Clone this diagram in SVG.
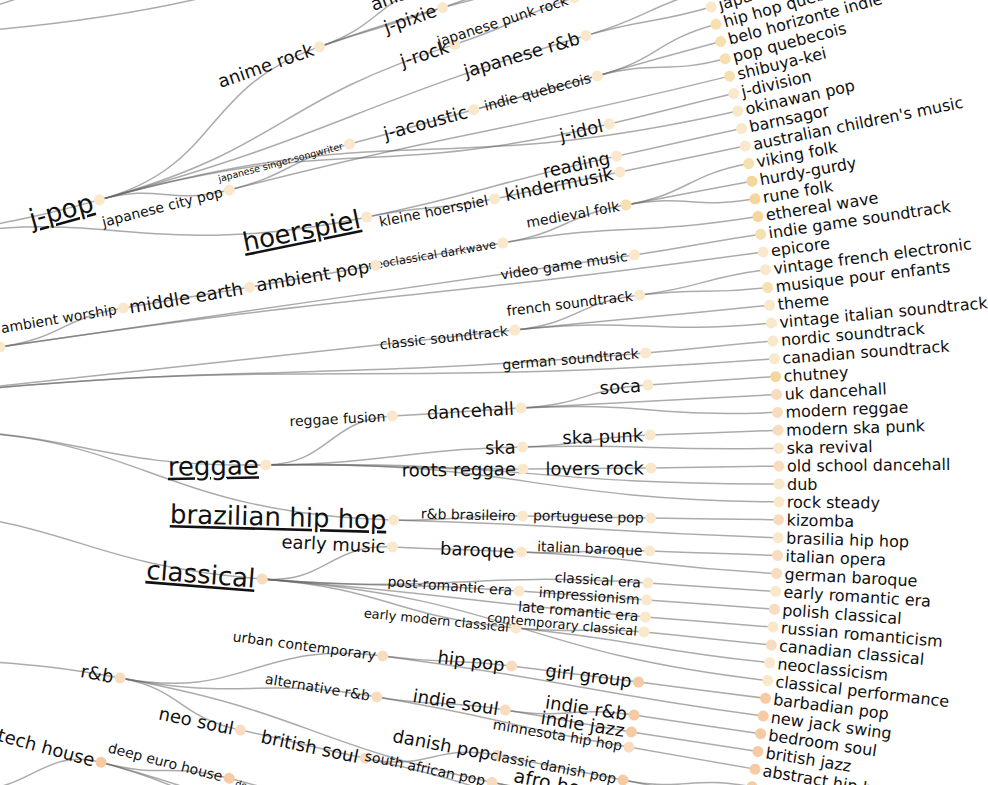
<svg xmlns="http://www.w3.org/2000/svg" width="988" height="785" viewBox="0 0 988 785">
<style>
.lk path{fill:none;stroke:#666;stroke-opacity:.55;stroke-width:1.5}
text{font-family:"DejaVu Sans",Verdana,sans-serif;fill:#111}
.lf text{font-size:16px}
.in text{text-anchor:end}
.b{font-size:26px;text-decoration:underline}
.m{font-size:18px}
.m2{font-size:19px}
.s{font-size:14px}
.xs{font-size:13px}
.t{font-size:11.5px}
.tt{font-size:9.5px}
.c1{fill:#f9e8cc}.c2{fill:#f6d69c}.c3{fill:#f8dcbf}.c4{fill:#f6cba4}.c5{fill:#f7e0b0}
</style>
<rect width="988" height="785" fill="#fff"/>
<g id="connectors" class="lk">
<path d="M -20,31 Q 110,20 210,-4"/>
<path d="M -5,6 Q 10,1 25,-4"/>
<g transform="translate(-928,484)">
<path transform="rotate(-15.458)" d="M1066,0 C1194,0 1191.3,-80.4 1319,-89"/>
<path transform="rotate(-15.458)" d="M1066,0 C1258.5,0 1257.6,-47.9 1449.9,-55.2"/>
<path transform="rotate(-15.458)" d="M1066,0 C1322.5,0 1322.3,-24 1578.7,-28.7"/>
<path transform="rotate(-15.458)" d="M1066,0 C1130,0 1129.8,23.7 1193.7,25"/>
<path transform="rotate(-15.458)" d="M1066,0 C1322.5,0 1321.5,52.6 1577.8,62.8"/>
<path transform="rotate(-15.458)" d="M1066,0 C1386.5,0 1384.8,68.6 1704.9,84.5"/>
<path transform="rotate(-14.256)" d="M1194,0 C1258,0 1257.9,-14.1 1321.9,-14.8"/>
<path transform="rotate(-14.256)" d="M1194,0 C1450.5,0 1450.5,11 1707,12.9"/>
<path transform="rotate(-14.899)" d="M1322,0 C1386.5,0 1386.5,-1.2 1451,-1.2"/>
<path transform="rotate(-14.947)" d="M1451,0 C1515,0 1515,-0.8 1579,-0.8"/>
<path transform="rotate(-14.947)" d="M1451,0 C1579,0 1579,-2.2 1707,-2.3"/>
<path transform="rotate(-14.977)" d="M1579,0 C1643,0 1642.9,-18.6 1706.9,-19.3"/>
<path transform="rotate(-14.977)" d="M1579,0 C1643,0 1642.9,15.9 1706.9,16.5"/>
<path transform="rotate(-16.497)" d="M1579,0 C1643,0 1643,7.8 1707,8.1"/>
<path transform="rotate(-16.497)" d="M1579,0 C1643,0 1643,-9.5 1707,-9.9"/>
<path transform="rotate(-17.639)" d="M1451,0 C1515,0 1515,-8 1579,-8.3"/>
<path transform="rotate(-19.316)" d="M1322,0 C1386.5,0 1386.5,3.6 1451,3.8"/>
<path transform="rotate(-19.316)" d="M1322,0 C1386.5,0 1386.3,-22.1 1450.8,-23.1"/>
<path transform="rotate(-19.316)" d="M1322,0 C1514.5,0 1514.4,18.1 1706.9,20.4"/>
<path transform="rotate(-19.166)" d="M1451,0 C1579,0 1579,-1.8 1707,-2"/>
<path transform="rotate(-11.647)" d="M1322,0 C1386.5,0 1386.5,7.6 1451,7.9"/>
<path transform="rotate(-11.647)" d="M1322,0 C1450.5,0 1450.5,-8.5 1579,-9.3"/>
<path transform="rotate(-11.335)" d="M1451,0 C1515,0 1515,-1.6 1579,-1.7"/>
<path transform="rotate(-11.984)" d="M1579,0 C1643,0 1643,-1 1707,-1.1"/>
<path transform="rotate(-11.395)" d="M1579,0 C1643,0 1643,-0.7 1707,-0.7"/>
<path transform="rotate(-13.18)" d="M1579,0 C1643,0 1643,-1.2 1707,-1.3"/>
<path transform="rotate(-8.396)" d="M938,0 C1002,0 1001.8,-19.4 1065.8,-20.7"/>
<path transform="rotate(-8.396)" d="M938,0 C1258.5,0 1258.5,1.2 1579,1.5"/>
<path transform="rotate(-8.396)" d="M938,0 C1322.5,0 1322.4,13.5 1706.9,17.4"/>
<path transform="rotate(-9.508)" d="M1066,0 C1130,0 1130,0.4 1194,0.4"/>
<path transform="rotate(-9.49)" d="M1194,0 C1258,0 1258,-0.8 1322,-0.8"/>
<path transform="rotate(-9.526)" d="M1322,0 C1386.5,0 1386.5,-0.9 1451,-0.9"/>
<path transform="rotate(-9.562)" d="M1451,0 C1515,0 1514.9,-16.4 1578.9,-17.1"/>
<path transform="rotate(-9.562)" d="M1451,0 C1579,0 1578.9,15.1 1706.9,16.3"/>
<path transform="rotate(-10.181)" d="M1579,0 C1643,0 1642.9,-18.3 1706.9,-19"/>
<path transform="rotate(-10.181)" d="M1579,0 C1643,0 1643,-1 1707,-1.1"/>
<path transform="rotate(-10.181)" d="M1579,0 C1643,0 1642.9,16.2 1706.9,16.8"/>
<path transform="rotate(-8.342)" d="M1579,0 C1643,0 1643,-2.1 1707,-2.2"/>
<path transform="rotate(-6.01)" d="M810,0 C1130.5,0 1130.5,-1.5 1451,-2"/>
<path transform="rotate(-6.01)" d="M810,0 C1194.5,0 1194.2,26.1 1578.6,34.5"/>
<path transform="rotate(-6.01)" d="M810,0 C1258.5,0 1257.9,39.6 1706.2,53.7"/>
<path transform="rotate(-6.088)" d="M1451,0 C1515,0 1514.9,-20.8 1578.9,-21.7"/>
<path transform="rotate(-6.088)" d="M1451,0 C1579,0 1579,2.2 1707,2.3"/>
<path transform="rotate(-6.088)" d="M1451,0 C1579,0 1578.9,18.7 1706.9,20.2"/>
<path transform="rotate(-6.875)" d="M1579,0 C1643,0 1643,-9.7 1707,-10"/>
<path transform="rotate(-6.875)" d="M1579,0 C1643,0 1643,7.6 1707,7.9"/>
<path transform="rotate(-4.76)" d="M1579,0 C1643,0 1643,-1.4 1707,-1.4"/>
<path transform="rotate(-3.606)" d="M810,0 C1002,0 1000.9,47.1 1192.7,56.1"/>
<path transform="rotate(-3.606)" d="M810,0 C1066,0 1061.7,95.9 1316.6,119"/>
<path transform="rotate(-0.914)" d="M1194,0 C1258,0 1257.2,-44.6 1321.2,-46.9"/>
<path transform="rotate(-0.914)" d="M1194,0 C1322.5,0 1322.4,-12.6 1450.9,-13.9"/>
<path transform="rotate(-0.914)" d="M1194,0 C1322.5,0 1322.5,7.4 1451,8.1"/>
<path transform="rotate(-0.914)" d="M1194,0 C1450.5,0 1450.3,23.1 1706.8,27.2"/>
<path transform="rotate(-0.914)" d="M1194,0 C1450.5,0 1450,38.3 1706.4,45.1"/>
<path transform="rotate(-2.945)" d="M1322,0 C1386.5,0 1386.5,-1.3 1451,-1.4"/>
<path transform="rotate(-2.999)" d="M1451,0 C1515,0 1514.9,-15.7 1578.9,-16.4"/>
<path transform="rotate(-2.999)" d="M1451,0 C1579,0 1579,-0.2 1707,-0.2"/>
<path transform="rotate(-2.999)" d="M1451,0 C1579,0 1578.9,16.4 1706.9,17.7"/>
<path transform="rotate(-3.594)" d="M1579,0 C1643,0 1643,-0.3 1707,-0.4"/>
<path transform="rotate(-1.46)" d="M1451,0 C1515,0 1515,-8.4 1579,-8.8"/>
<path transform="rotate(-1.46)" d="M1451,0 C1579,0 1579,7.1 1707,7.7"/>
<path transform="rotate(-1.779)" d="M1579,0 C1643,0 1643,-0.7 1707,-0.7"/>
<path transform="rotate(-0.595)" d="M1451,0 C1515,0 1515,0.3 1579,0.3"/>
<path transform="rotate(-0.583)" d="M1579,0 C1643,0 1643,-0.5 1707,-0.5"/>
<path transform="rotate(1.557)" d="M1322,0 C1386.5,0 1386.5,-7.1 1451,-7.5"/>
<path transform="rotate(1.557)" d="M1322,0 C1514.5,0 1514.5,6.5 1707,7.3"/>
<path transform="rotate(1.262)" d="M1451,0 C1515,0 1515,-0.8 1579,-0.8"/>
<path transform="rotate(1.232)" d="M1579,0 C1643,0 1643,-0.9 1707,-0.9"/>
<path transform="rotate(1.803)" d="M810,0 C1002,0 1000.8,48.2 1192.6,57.5"/>
<path transform="rotate(4.562)" d="M1194,0 C1258,0 1257.4,-40.2 1321.3,-42.3"/>
<path transform="rotate(4.562)" d="M1194,0 C1386.5,0 1386.3,-23.4 1578.8,-26.7"/>
<path transform="rotate(4.562)" d="M1194,0 C1322.5,0 1322.5,-7.6 1451,-8.4"/>
<path transform="rotate(4.562)" d="M1194,0 C1386.5,0 1386.5,6.5 1579,7.5"/>
<path transform="rotate(4.562)" d="M1194,0 C1322.5,0 1322.2,26.2 1450.7,28.8"/>
<path transform="rotate(4.562)" d="M1194,0 C1450.5,0 1449.6,51.9 1705.9,61.1"/>
<path transform="rotate(2.729)" d="M1322,0 C1386.5,0 1386.5,-1 1451,-1.1"/>
<path transform="rotate(2.686)" d="M1451,0 C1515,0 1515,-6.7 1579,-7"/>
<path transform="rotate(2.686)" d="M1451,0 C1579,0 1579,8.8 1707,9.5"/>
<path transform="rotate(2.434)" d="M1579,0 C1643,0 1643,-0.9 1707,-0.9"/>
<path transform="rotate(3.594)" d="M1579,0 C1643,0 1643,0.3 1707,0.4"/>
<path transform="rotate(4.231)" d="M1451,0 C1515,0 1515,-0.5 1579,-0.5"/>
<path transform="rotate(4.213)" d="M1579,0 C1643,0 1643,-0.2 1707,-0.2"/>
<path transform="rotate(4.832)" d="M1579,0 C1643,0 1643,-0.7 1707,-0.7"/>
<path transform="rotate(5.697)" d="M1451,0 C1515,0 1515,-8.4 1579,-8.8"/>
<path transform="rotate(5.697)" d="M1451,0 C1579,0 1579,8.6 1707,9.3"/>
<path transform="rotate(5.379)" d="M1579,0 C1643,0 1643,0.9 1707,0.9"/>
<path transform="rotate(11.419)" d="M810,0 C938,0 937.9,-15.3 1065.9,-17.3"/>
<path transform="rotate(10.487)" d="M1066,0 C1194,0 1192.4,-62.7 1320.2,-69.5"/>
<path transform="rotate(10.487)" d="M1066,0 C1194,0 1193.7,-25.4 1321.7,-28.2"/>
<path transform="rotate(10.487)" d="M1066,0 C1130,0 1129.7,27.7 1193.6,29.3"/>
<path transform="rotate(10.487)" d="M1066,0 C1258.5,0 1258.1,30.2 1450.6,34.9"/>
<path transform="rotate(7.476)" d="M1322,0 C1386.5,0 1386.5,-6.5 1451,-6.9"/>
<path transform="rotate(7.476)" d="M1322,0 C1514.5,0 1514.5,8.9 1707,10"/>
<path transform="rotate(7.206)" d="M1451,0 C1515,0 1515,0 1579,0"/>
<path transform="rotate(7.206)" d="M1579,0 C1643,0 1643,0.2 1707,0.2"/>
<path transform="rotate(9.267)" d="M1322,0 C1386.5,0 1386.5,-7.4 1451,-7.8"/>
<path transform="rotate(9.267)" d="M1322,0 C1450.5,0 1450.5,8.2 1579,8.9"/>
<path transform="rotate(8.961)" d="M1451,0 C1515,0 1514.9,-14.5 1578.9,-15.1"/>
<path transform="rotate(8.961)" d="M1451,0 C1515,0 1515,1.9 1579,2"/>
<path transform="rotate(8.414)" d="M1579,0 C1643,0 1643,0 1707,0"/>
<path transform="rotate(9.033)" d="M1579,0 C1643,0 1643,-0.5 1707,-0.5"/>
<path transform="rotate(9.592)" d="M1579,0 C1643,0 1643,0.7 1707,0.7"/>
<path transform="rotate(11.894)" d="M1194,0 C1258,0 1258,1.9 1322,1.9"/>
<path transform="rotate(11.978)" d="M1322,0 C1386.5,0 1386.2,-29.1 1450.7,-30.4"/>
<path transform="rotate(11.978)" d="M1322,0 C1514.5,0 1514.1,32.9 1706.6,37.1"/>
<path transform="rotate(10.776)" d="M1451,0 C1515,0 1515,0.8 1579,0.8"/>
<path transform="rotate(10.806)" d="M1579,0 C1643,0 1642.9,-16.9 1706.9,-17.6"/>
<path transform="rotate(10.806)" d="M1579,0 C1643,0 1643,0.3 1707,0.4"/>
<path transform="rotate(11.864)" d="M1451,0 C1515,0 1515,-11.8 1579,-12.3"/>
<path transform="rotate(11.864)" d="M1451,0 C1579,0 1579,4.3 1707,4.7"/>
<path transform="rotate(18.631)" d="M938,0 C1002,0 1000.1,-61.1 1064,-65"/>
<path transform="rotate(15.133)" d="M1066,0 C1130,0 1129.9,-17.1 1193.9,-18"/>
<path transform="rotate(15.133)" d="M1066,0 C1194,0 1194,10.3 1322,11.4"/>
<path transform="rotate(15.133)" d="M1066,0 C1194,0 1193.6,29.1 1321.6,32.2"/>
<path transform="rotate(14.268)" d="M1194,0 C1258,0 1258,3.4 1322,3.6"/>
<path transform="rotate(-16.227)" d="M810,0 C938,0 937.9,12.6 1065.9,14.3"/>
<path transform="rotate(-16.227)" d="M810,0 C1066,0 1062.6,85.1 1317.8,105.6"/>
</g>
</g>
<g id="nodes" transform="translate(-928,484)">
<g class="in">
<g id="n-jpop" transform="rotate(-15.458) translate(1066)"><circle r="5.5" class="c1"/><text x="-7" dy=".35em" class="b">j-pop</text></g>
<g id="n-japanese-city-pop" transform="rotate(-14.256) translate(1194)"><circle r="5.5" class="c1"/><text x="-7" dy=".35em" class="s">japanese city pop</text></g>
<g id="n-anime-rock" transform="rotate(-19.316) translate(1322)"><circle r="5.5" class="c1"/><text x="-7" dy=".35em" class="m">anime rock</text></g>
<g id="n-japanese-singer-songwriter" transform="rotate(-14.899) translate(1322)"><circle r="5.5" class="c1"/><text x="-7" dy=".35em" class="tt">japanese singer-songwriter</text></g>
<g id="n-j-pixie" transform="rotate(-19.166) translate(1451)"><circle r="5.5" class="c1"/><text x="-7" dy=".35em" class="m">j-pixie</text></g>
<g id="n-j-rock" transform="rotate(-17.639) translate(1451)"><circle r="5.5" class="c1"/><text x="-7" dy=".35em" class="m">j-rock</text></g>
<g id="n-j-acoustic" transform="rotate(-14.947) translate(1451)"><circle r="5.5" class="c1"/><text x="-7" dy=".35em" class="m">j-acoustic</text></g>
<g id="n-anison" transform="rotate(-20.23) translate(1451)"><circle r="5.5" class="c1"/><text x="-7" dy=".35em" class="m">anison</text></g>
<g id="n-japanese-punk-rock" transform="rotate(-17.94) translate(1579)"><circle r="5.5" class="c1"/><text x="-7" dy=".35em" class="s">japanese punk rock</text></g>
<g id="n-japanese-rnb" transform="rotate(-16.497) translate(1579)"><circle r="5.5" class="c1"/><text x="-7" dy=".35em" class="m">japanese r&amp;b</text></g>
<g id="n-indie-quebecois" transform="rotate(-14.977) translate(1579)"><circle r="5.5" class="c1"/><text x="-7" dy=".35em" class="s">indie quebecois</text></g>
<g id="n-j-idol" transform="rotate(-13.18) translate(1579)"><circle r="5.5" class="c1"/><text x="-7" dy=".35em" class="m">j-idol</text></g>
<g id="n-reading" transform="rotate(-11.984) translate(1579)"><circle r="5.5" class="c1"/><text x="-7" dy=".35em" class="m">reading</text></g>
<g id="n-kindermusik" transform="rotate(-11.395) translate(1579)"><circle r="5.5" class="c1"/><text x="-7" dy=".35em" class="m">kindermusik</text></g>
<g id="n-kleine-hoerspiel" transform="rotate(-11.335) translate(1451)"><circle r="5.5" class="c1"/><text x="-7" dy=".35em" class="s">kleine hoerspiel</text></g>
<g id="n-hoerspiel" transform="rotate(-11.647) translate(1322)"><circle r="5.5" class="c1"/><text x="-7" dy=".35em" class="b">hoerspiel</text></g>
<g id="n-medieval-folk" transform="rotate(-10.181) translate(1579)"><circle r="5.5" class="c5"/><text x="-7" dy=".35em" class="s">medieval folk</text></g>
<g id="n-neoclassical-darkwave" transform="rotate(-9.562) translate(1451)"><circle r="5.5" class="c1"/><text x="-7" dy=".35em" class="t">neoclassical darkwave</text></g>
<g id="n-video-game-music" transform="rotate(-8.342) translate(1579)"><circle r="5.5" class="c1"/><text x="-7" dy=".35em" class="s">video game music</text></g>
<g id="n-ambient-pop" transform="rotate(-9.526) translate(1322)"><circle r="5.5" class="c1"/><text x="-7" dy=".35em" class="m">ambient pop</text></g>
<g id="n-middle-earth" transform="rotate(-9.49) translate(1194)"><circle r="5.5" class="c1"/><text x="-7" dy=".35em" class="m">middle earth</text></g>
<g id="n-ambient-worship" transform="rotate(-9.508) translate(1066)"><circle r="5.5" class="c1"/><text x="-7" dy=".35em" class="s">ambient worship</text></g>
<g id="n-edge" transform="rotate(-8.396) translate(938)"><circle r="5.5" class="c1"/></g>
<g id="n-classic-soundtrack" transform="rotate(-6.088) translate(1451)"><circle r="5.5" class="c1"/><text x="-7" dy=".35em" class="s">classic soundtrack</text></g>
<g id="n-french-soundtrack" transform="rotate(-6.875) translate(1579)"><circle r="5.5" class="c1"/><text x="-7" dy=".35em" class="s">french soundtrack</text></g>
<g id="n-german-soundtrack" transform="rotate(-4.76) translate(1579)"><circle r="5.5" class="c1"/><text x="-7" dy=".35em" class="s">german soundtrack</text></g>
<g id="n-soca" transform="rotate(-3.594) translate(1579)"><circle r="5.5" class="c1"/><text x="-7" dy=".35em" class="m">soca</text></g>
<g id="n-dancehall" transform="rotate(-2.999) translate(1451)"><circle r="5.5" class="c1"/><text x="-7" dy=".35em" class="m">dancehall</text></g>
<g id="n-reggae-fusion" transform="rotate(-2.945) translate(1322)"><circle r="5.5" class="c1"/><text x="-7" dy=".35em" class="s">reggae fusion</text></g>
<g id="n-ska-punk" transform="rotate(-1.779) translate(1579)"><circle r="5.5" class="c1"/><text x="-7" dy=".35em" class="m">ska punk</text></g>
<g id="n-ska" transform="rotate(-1.46) translate(1451)"><circle r="5.5" class="c1"/><text x="-7" dy=".35em" class="m">ska</text></g>
<g id="n-reggae" transform="rotate(-0.914) translate(1194)"><circle r="5.5" class="c1"/><text x="-7" dy=".35em" class="b">reggae</text></g>
<g id="n-lovers-rock" transform="rotate(-0.583) translate(1579)"><circle r="5.5" class="c1"/><text x="-7" dy=".35em" class="m">lovers rock</text></g>
<g id="n-roots-reggae" transform="rotate(-0.595) translate(1451)"><circle r="5.5" class="c1"/><text x="-7" dy=".35em" class="m">roots reggae</text></g>
<g id="n-rnb-brasileiro" transform="rotate(1.262) translate(1451)"><circle r="5.5" class="c1"/><text x="-7" dy=".35em" class="s">r&amp;b brasileiro</text></g>
<g id="n-portuguese-pop" transform="rotate(1.232) translate(1579)"><circle r="5.5" class="c1"/><text x="-7" dy=".35em" class="s">portuguese pop</text></g>
<g id="n-brazilian-hip-hop" transform="rotate(1.557) translate(1322)"><circle r="5.5" class="c1"/><text x="-7" dy=".35em" class="b">brazilian hip hop</text></g>
<g id="n-early-music" transform="rotate(2.729) translate(1322)"><circle r="5.5" class="c1"/><text x="-7" dy=".35em" class="m">early music</text></g>
<g id="n-italian-baroque" transform="rotate(2.434) translate(1579)"><circle r="5.5" class="c1"/><text x="-7" dy=".35em" class="s">italian baroque</text></g>
<g id="n-baroque" transform="rotate(2.686) translate(1451)"><circle r="5.5" class="c1"/><text x="-7" dy=".35em" class="m">baroque</text></g>
<g id="n-classical" transform="rotate(4.562) translate(1194)"><circle r="5.5" class="c3"/><text x="-7" dy=".35em" class="b">classical</text></g>
<g id="n-classical-era" transform="rotate(3.594) translate(1579)"><circle r="5.5" class="c1"/><text x="-7" dy=".35em" class="s">classical era</text></g>
<g id="n-post-romantic-era" transform="rotate(4.231) translate(1451)"><circle r="5.5" class="c1"/><text x="-7" dy=".35em" class="s">post-romantic era</text></g>
<g id="n-impressionism" transform="rotate(4.213) translate(1579)"><circle r="5.5" class="c1"/><text x="-7" dy=".35em" class="s">impressionism</text></g>
<g id="n-late-romantic-era" transform="rotate(4.832) translate(1579)"><circle r="5.5" class="c1"/><text x="-7" dy=".35em" class="s">late romantic era</text></g>
<g id="n-early-modern-classical" transform="rotate(5.697) translate(1451)"><circle r="5.5" class="c1"/><text x="-7" dy=".35em" class="xs">early modern classical</text></g>
<g id="n-contemporary-classical" transform="rotate(5.379) translate(1579)"><circle r="5.5" class="c1"/><text x="-7" dy=".35em" class="xs">contemporary classical</text></g>
<g id="n-urban-contemporary" transform="rotate(7.476) translate(1322)"><circle r="5.5" class="c3"/><text x="-7" dy=".35em" class="s">urban contemporary</text></g>
<g id="n-hip-pop" transform="rotate(7.206) translate(1451)"><circle r="5.5" class="c3"/><text x="-7" dy=".35em" class="m">hip pop</text></g>
<g id="n-girl-group" transform="rotate(7.206) translate(1579)"><circle r="5.5" class="c4"/><text x="-7" dy=".35em" class="m">girl group</text></g>
<g id="n-rnb" transform="rotate(10.487) translate(1066)"><circle r="5.5" class="c3"/><text x="-7" dy=".35em" class="m">r&amp;b</text></g>
<g id="n-alternative-rnb" transform="rotate(9.267) translate(1322)"><circle r="5.5" class="c3"/><text x="-7" dy=".35em" class="s">alternative r&amp;b</text></g>
<g id="n-indie-soul" transform="rotate(8.961) translate(1451)"><circle r="5.5" class="c3"/><text x="-7" dy=".35em" class="m">indie soul</text></g>
<g id="n-indie-rnb" transform="rotate(8.414) translate(1579)"><circle r="5.5" class="c4"/><text x="-7" dy=".35em" class="m">indie r&amp;b</text></g>
<g id="n-indie-jazz" transform="rotate(9.033) translate(1579)"><circle r="5.5" class="c4"/><text x="-7" dy=".35em" class="m">indie jazz</text></g>
<g id="n-minnesota-hip-hop" transform="rotate(9.592) translate(1579)"><circle r="5.5" class="c3"/><text x="-7" dy=".35em" class="s">minnesota hip hop</text></g>
<g id="n-neo-soul" transform="rotate(11.894) translate(1194)"><circle r="5.5" class="c3"/><text x="-7" dy=".35em" class="m">neo soul</text></g>
<g id="n-danish-pop" transform="rotate(10.776) translate(1451)"><circle r="5.5" class="c3"/><text x="-7" dy=".35em" class="m">danish pop</text></g>
<g id="n-british-soul" transform="rotate(11.978) translate(1322)"><circle r="5.5" class="c3"/><text x="-7" dy=".35em" class="m">british soul</text></g>
<g id="n-tech-house" transform="rotate(15.133) translate(1066)"><circle r="5.5" class="c4"/><text x="-7" dy=".35em" class="m">tech house</text></g>
<g id="n-deep-euro-house" transform="rotate(14.268) translate(1194)"><circle r="5.5" class="c4"/><text x="-7" dy=".35em" class="s">deep euro house</text></g>
<g id="n-classic-danish-pop" transform="rotate(10.806) translate(1579)"><circle r="5.5" class="c4"/><text x="-7" dy=".35em" class="s">classic danish pop</text></g>
<g id="n-south-african-pop" transform="rotate(11.864) translate(1451)"><circle r="5.5" class="c3"/><text x="-7" dy=".35em" class="s">south african pop</text></g>
<g id="n-afro-house" transform="rotate(11.419) translate(1579)"><circle r="5.5" class="c4"/><text x="-7" dy=".35em" class="m2">afro house</text></g>
<g id="n-deep-sub" transform="rotate(14.424) translate(1322)"><circle r="5.5" class="c4"/><text x="-7" dy=".35em" class="tt">deep progressive house</text></g>
</g>
<g class="lf">
<g id="l0" transform="rotate(-16.227) translate(1707)"><circle r="5.5" class="c1"/><text x="8" dy=".35em">japanese</text></g>
<g id="l1" transform="rotate(-15.626) translate(1707)"><circle r="5.5" class="c5"/><text x="8" dy=".35em">hip hop quebecois</text></g>
<g id="l2" transform="rotate(-15.025) translate(1707)"><circle r="5.5" class="c5"/><text x="8" dy=".35em">belo horizonte indie</text></g>
<g id="l3" transform="rotate(-14.424) translate(1707)"><circle r="5.5" class="c5"/><text x="8" dy=".35em">pop quebecois</text></g>
<g id="l4" transform="rotate(-13.823) translate(1707)"><circle r="5.5" class="c5"/><text x="8" dy=".35em">shibuya-kei</text></g>
<g id="l5" transform="rotate(-13.222) translate(1707)"><circle r="5.5" class="c1"/><text x="8" dy=".35em">j-division</text></g>
<g id="l6" transform="rotate(-12.621) translate(1707)"><circle r="5.5" class="c1"/><text x="8" dy=".35em">okinawan pop</text></g>
<g id="l7" transform="rotate(-12.02) translate(1707)"><circle r="5.5" class="c1"/><text x="8" dy=".35em">barnsagor</text></g>
<g id="l8" transform="rotate(-11.419) translate(1707)"><circle r="5.5" class="c1"/><text x="8" dy=".35em">australian children's music</text></g>
<g id="l9" transform="rotate(-10.818) translate(1707)"><circle r="5.5" class="c5"/><text x="8" dy=".35em">viking folk</text></g>
<g id="l10" transform="rotate(-10.217) translate(1707)"><circle r="5.5" class="c2"/><text x="8" dy=".35em">hurdy-gurdy</text></g>
<g id="l11" transform="rotate(-9.616) translate(1707)"><circle r="5.5" class="c2"/><text x="8" dy=".35em">rune folk</text></g>
<g id="l12" transform="rotate(-9.015) translate(1707)"><circle r="5.5" class="c2"/><text x="8" dy=".35em">ethereal wave</text></g>
<g id="l13" transform="rotate(-8.414) translate(1707)"><circle r="5.5" class="c5"/><text x="8" dy=".35em">indie game soundtrack</text></g>
<g id="l14" transform="rotate(-7.813) translate(1707)"><circle r="5.5" class="c1"/><text x="8" dy=".35em">epicore</text></g>
<g id="l15" transform="rotate(-7.212) translate(1707)"><circle r="5.5" class="c1"/><text x="8" dy=".35em">vintage french electronic</text></g>
<g id="l16" transform="rotate(-6.611) translate(1707)"><circle r="5.5" class="c5"/><text x="8" dy=".35em">musique pour enfants</text></g>
<g id="l17" transform="rotate(-6.01) translate(1707)"><circle r="5.5" class="c1"/><text x="8" dy=".35em">theme</text></g>
<g id="l18" transform="rotate(-5.409) translate(1707)"><circle r="5.5" class="c1"/><text x="8" dy=".35em">vintage italian soundtrack</text></g>
<g id="l19" transform="rotate(-4.808) translate(1707)"><circle r="5.5" class="c1"/><text x="8" dy=".35em">nordic soundtrack</text></g>
<g id="l20" transform="rotate(-4.207) translate(1707)"><circle r="5.5" class="c1"/><text x="8" dy=".35em">canadian soundtrack</text></g>
<g id="l21" transform="rotate(-3.606) translate(1707)"><circle r="5.5" class="c2"/><text x="8" dy=".35em">chutney</text></g>
<g id="l22" transform="rotate(-3.005) translate(1707)"><circle r="5.5" class="c3"/><text x="8" dy=".35em">uk dancehall</text></g>
<g id="l23" transform="rotate(-2.404) translate(1707)"><circle r="5.5" class="c3"/><text x="8" dy=".35em">modern reggae</text></g>
<g id="l24" transform="rotate(-1.803) translate(1707)"><circle r="5.5" class="c3"/><text x="8" dy=".35em">modern ska punk</text></g>
<g id="l25" transform="rotate(-1.202) translate(1707)"><circle r="5.5" class="c1"/><text x="8" dy=".35em">ska revival</text></g>
<g id="l26" transform="rotate(-0.601) translate(1707)"><circle r="5.5" class="c3"/><text x="8" dy=".35em">old school dancehall</text></g>
<g id="l27" transform="rotate(0) translate(1707)"><circle r="5.5" class="c1"/><text x="8" dy=".35em">dub</text></g>
<g id="l28" transform="rotate(0.601) translate(1707)"><circle r="5.5" class="c1"/><text x="8" dy=".35em">rock steady</text></g>
<g id="l29" transform="rotate(1.202) translate(1707)"><circle r="5.5" class="c3"/><text x="8" dy=".35em">kizomba</text></g>
<g id="l30" transform="rotate(1.803) translate(1707)"><circle r="5.5" class="c1"/><text x="8" dy=".35em">brasilia hip hop</text></g>
<g id="l31" transform="rotate(2.404) translate(1707)"><circle r="5.5" class="c3"/><text x="8" dy=".35em">italian opera</text></g>
<g id="l32" transform="rotate(3.005) translate(1707)"><circle r="5.5" class="c3"/><text x="8" dy=".35em">german baroque</text></g>
<g id="l33" transform="rotate(3.606) translate(1707)"><circle r="5.5" class="c1"/><text x="8" dy=".35em">early romantic era</text></g>
<g id="l34" transform="rotate(4.207) translate(1707)"><circle r="5.5" class="c3"/><text x="8" dy=".35em">polish classical</text></g>
<g id="l35" transform="rotate(4.808) translate(1707)"><circle r="5.5" class="c1"/><text x="8" dy=".35em">russian romanticism</text></g>
<g id="l36" transform="rotate(5.409) translate(1707)"><circle r="5.5" class="c3"/><text x="8" dy=".35em">canadian classical</text></g>
<g id="l37" transform="rotate(6.01) translate(1707)"><circle r="5.5" class="c1"/><text x="8" dy=".35em">neoclassicism</text></g>
<g id="l38" transform="rotate(6.611) translate(1707)"><circle r="5.5" class="c1"/><text x="8" dy=".35em">classical performance</text></g>
<g id="l39" transform="rotate(7.212) translate(1707)"><circle r="5.5" class="c4"/><text x="8" dy=".35em">barbadian pop</text></g>
<g id="l40" transform="rotate(7.813) translate(1707)"><circle r="5.5" class="c4"/><text x="8" dy=".35em">new jack swing</text></g>
<g id="l41" transform="rotate(8.414) translate(1707)"><circle r="5.5" class="c4"/><text x="8" dy=".35em">bedroom soul</text></g>
<g id="l42" transform="rotate(9.015) translate(1707)"><circle r="5.5" class="c4"/><text x="8" dy=".35em">british jazz</text></g>
<g id="l43" transform="rotate(9.616) translate(1707)"><circle r="5.5" class="c4"/><text x="8" dy=".35em">abstract hip hop</text></g>
<g id="l44" transform="rotate(10.217) translate(1707)"><circle r="5.5" class="c4"/></g>
</g>
</g>
</svg>
